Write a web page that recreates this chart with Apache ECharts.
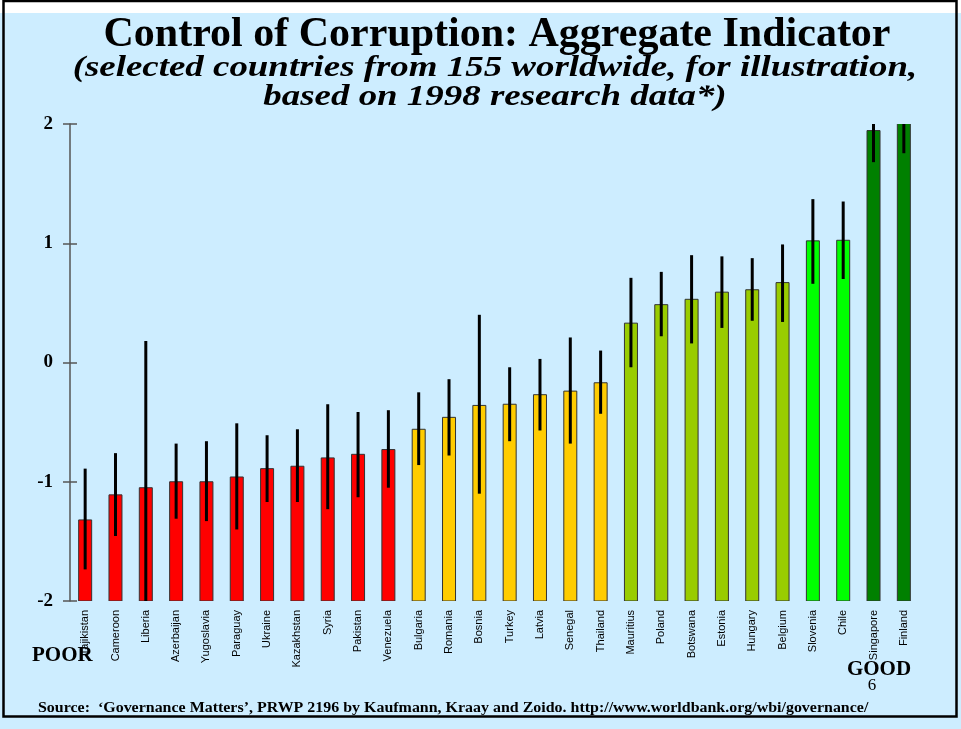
<!doctype html>
<html>
<head>
    <meta charset="UTF-8">
    <title>Control of Corruption</title>
    <script src="https://cdn.jsdelivr.net/npm/echarts@6/dist/echarts.min.js"></script>
    <style>
        html, body { margin: 0; padding: 0; background: #cdedff; }
        #main { width: 961px; height: 729px; }
    </style>
</head>
<body>
<div id="main"></div>
<script>
    // countries, left to right
    var countries = ['Tajikistan', 'Cameroon', 'Liberia', 'Azerbaijan', 'Yugoslavia', 'Paraguay', 'Ukraine',
        'Kazakhstan', 'Syria', 'Pakistan', 'Venezuela', 'Bulgaria', 'Romania', 'Bosnia', 'Turkey', 'Latvia',
        'Senegal', 'Thailand', 'Mauritius', 'Poland', 'Botswana', 'Estonia', 'Hungary', 'Belgium',
        'Slovenia', 'Chile', 'Singapore', 'Finland'];
    // point estimate of the indicator
    var scores = [-1.32, -1.11, -1.05, -1.00, -1.00, -0.96, -0.89, -0.87, -0.80, -0.77, -0.73,
        -0.56, -0.46, -0.36, -0.35, -0.27, -0.24, -0.17, 0.33, 0.485, 0.53, 0.59, 0.61, 0.67,
        1.02, 1.025, 1.945, 2.05];
    // lower / upper end of the error bars
    var errLow = [-1.735, -1.455, -2.28, -1.31, -1.33, -1.40, -1.17, -1.17, -1.23, -1.13, -1.05,
        -0.86, -0.78, -1.10, -0.66, -0.57, -0.68, -0.43, -0.04, 0.22, 0.16, 0.29, 0.35, 0.34,
        0.66, 0.70, 1.68, 1.755];
    var errHigh = [-0.89, -0.76, 0.18, -0.68, -0.66, -0.51, -0.61, -0.56, -0.35, -0.415, -0.40,
        -0.25, -0.14, 0.40, -0.04, 0.03, 0.21, 0.10, 0.71, 0.76, 0.90, 0.89, 0.875, 0.99,
        1.37, 1.35, 2.21, 2.35];
    // rating group of each country (0 = worst ... 4 = best)
    var tier = [0, 0, 0, 0, 0, 0, 0, 0, 0, 0, 0,
        1, 1, 1, 1, 1, 1, 1,
        2, 2, 2, 2, 2, 2,
        3, 3,
        4, 4];
    var yMin = -2, yMax = 2;   // bars grow up from the bottom of the axis

    var palette = ['#ff0000', '#ffcc00', '#99cc00', '#00ff00', '#008000'];
    var serif = '"Liberation Serif", "Times New Roman", serif';

    var dom = document.getElementById('main');
    var myChart = echarts.init(dom, null, {renderer: 'canvas'});

    var option = {
        backgroundColor: '#cdedff',
        animation: false,
        grid: {
            left: 70,
            right: 42,
            top: 124,
            bottom: 128
        },
        xAxis: {
            type: 'category',
            data: countries,
            axisLine: {show: false},
            axisTick: {show: false},
            axisLabel: {
                rotate: 90,
                interval: 0,
                margin: 9,
                fontSize: 11,
                fontFamily: '"Liberation Sans", Arial, sans-serif',
                color: '#000'
            }
        },
        yAxis: [{
            type: 'value',
            min: yMin,
            max: yMax,
            interval: 1,
            splitLine: {show: false},
            axisLine: {show: true, lineStyle: {color: '#555', width: 1.5}},
            axisTick: {show: true, length: 7, lineStyle: {color: '#555', width: 1.5}},
            axisLabel: {
                margin: 17,
                fontSize: 19,
                fontWeight: 'bold',
                fontFamily: serif,
                color: '#000'
            }
        }, {
            // second copy only for the inner half of the ticks
            type: 'value',
            position: 'left',
            min: yMin,
            max: yMax,
            interval: 1,
            splitLine: {show: false},
            axisLine: {show: false},
            axisTick: {show: true, inside: true, length: 7, lineStyle: {color: '#555', width: 1.5}},
            axisLabel: {show: false}
        }],
        series: [
            {
                // bars, from the axis bottom up to the score
                type: 'custom',
                clip: true,
                data: scores.map(function (v, i) {
                    return [i, v, tier[i]];
                }),
                encode: {x: 0, y: 1},
                renderItem: function (params, api) {
                    var top = api.coord([api.value(0), api.value(1)]);
                    var base = api.coord([api.value(0), yMin]);
                    return {
                        type: 'rect',
                        shape: {x: top[0] - 6.5, y: top[1], width: 13, height: base[1] - top[1]},
                        style: {fill: palette[api.value(2)], stroke: '#333', lineWidth: 1}
                    };
                },
                z: 2
            },
            {
                // error bars
                type: 'custom',
                clip: true,
                data: countries.map(function (c, i) {
                    return [i, errLow[i], errHigh[i]];
                }),
                encode: {x: 0, y: [1, 2]},
                renderItem: function (params, api) {
                    var lo = api.coord([api.value(0), api.value(1)]);
                    var hi = api.coord([api.value(0), api.value(2)]);
                    return {
                        type: 'line',
                        shape: {x1: lo[0], y1: lo[1], x2: hi[0], y2: hi[1]},
                        style: {stroke: '#000', lineWidth: 3}
                    };
                },
                z: 5
            }
        ],
        graphic: [
            // white strip on top and the slide frame
            {type: 'rect', z: -1, shape: {x: 0, y: 0, width: 961, height: 13}, style: {fill: '#fff'}},
            {type: 'rect', z: 100, shape: {x: 3.5, y: 1, width: 953, height: 715.5},
                style: {fill: 'none', stroke: '#000', lineWidth: 2.5}},
            {type: 'text', z: 100, x: 497, y: 35, style: {
                text: 'Control of Corruption: Aggregate Indicator',
                font: 'bold 42px ' + serif, fill: '#000', align: 'center', verticalAlign: 'middle'}},
            {type: 'text', z: 100, x: 495, y: 68, scaleX: 1.23, style: {
                text: '(selected countries from 155 worldwide, for illustration,',
                font: 'italic bold 30px ' + serif, fill: '#000', align: 'center', verticalAlign: 'middle'}},
            {type: 'text', z: 100, x: 495, y: 97, scaleX: 1.23, style: {
                text: 'based on 1998 research data*)',
                font: 'italic bold 30px ' + serif, fill: '#000', align: 'center', verticalAlign: 'middle'}},
            {type: 'text', z: 100, x: 32, y: 656, style: {
                text: 'POOR', font: 'bold 21px ' + serif, fill: '#000', align: 'left', verticalAlign: 'middle'}},
            {type: 'text', z: 100, x: 879, y: 670, style: {
                text: 'GOOD', font: 'bold 21px ' + serif, fill: '#000', align: 'center', verticalAlign: 'middle'}},
            {type: 'text', z: 100, x: 872, y: 686, style: {
                text: '6', font: '17px ' + serif, fill: '#000', align: 'center', verticalAlign: 'middle'}},
            {type: 'text', z: 100, x: 38, y: 708.5, scaleX: 1.1, style: {
                text: 'Source:  \u2018Governance Matters\u2019, PRWP 2196 by Kaufmann, Kraay and Zoido. http://www.worldbank.org/wbi/governance/',
                font: 'bold 14.5px ' + serif, fill: '#000', align: 'left', verticalAlign: 'middle'}}
        ]
    };

    myChart.setOption(option, true);
    window.onresize = myChart.resize;
</script>
</body>
</html>
